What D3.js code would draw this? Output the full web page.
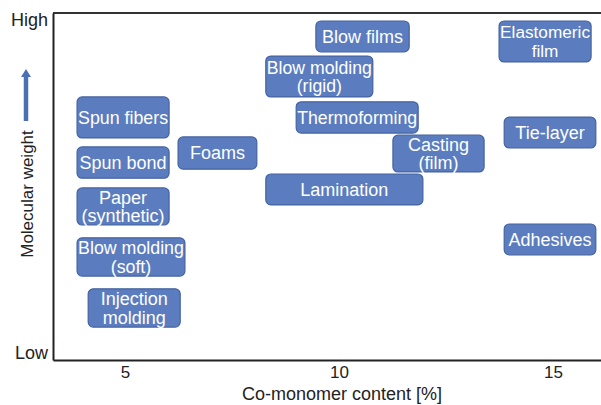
<!DOCTYPE html>
<html>
<head>
<meta charset="utf-8">
<script src="https://cdn.jsdelivr.net/npm/d3@7/dist/d3.min.js"></script>
<style>
  html, body { margin: 0; padding: 0; background: #fff; }
  svg { display: block; font-family: Arial, "Liberation Sans", sans-serif; }
</style>
</head>
<body>
<svg id="chart" width="601" height="405"></svg>
<script>
// ---- Data ----
const labels = [
  "Blow films", "Elastomeric\nfilm", "Blow molding\n(rigid)", "Spun fibers",
  "Thermoforming", "Tie-layer", "Casting\n(film)", "Spun bond", "Foams",
  "Lamination", "Paper\n(synthetic)", "Adhesives", "Blow molding\n(soft)",
  "Injection\nmolding"
];
// co-monomer content range [%] (start, end)
const comonomerStart = [9.46, 13.74, 8.29, 3.88, 9.00, 13.86, 11.26, 3.88, 6.24, 8.29, 3.88, 13.86, 3.88, 4.14];
const comonomerEnd   = [11.64, 15.89, 10.79, 6.03, 11.85, 16.00, 13.39, 6.03, 8.08, 11.96, 6.03, 16.00, 6.40, 6.29];
// molecular weight (relative index 0 = low, 100 = high) (low, high)
const mwLow  = [88.8, 85.9, 75.8, 64.0, 65.4, 61.1, 54.2, 52.4, 55.0, 44.7, 38.9, 30.3, 24.2, 9.5];
const mwHigh = [97.7, 97.7, 87.6, 75.8, 74.4, 70.0, 64.8, 61.4, 64.3, 53.6, 49.6, 39.2, 35.2, 20.5];

const xTickValues = [5, 10, 15];
const yTickValues = [2, 98];
const yTickLabels = ["Low", "High"];
const xTitle = "Co-monomer content [%]";
const yTitle = "Molecular weight";

// ---- Layout ----
const svg = d3.select("#chart");
const mLeft = 53, mRight = 601, mTop = 13, mBottom = 360;

const x = d3.scaleLinear()
  .domain([5 - (125 - mLeft) / 42.8, 15 + (mRight - 553) / 42.8])
  .range([mLeft, mRight]);
const y = d3.scaleLinear().domain([0, 100]).range([mBottom, mTop]);

const axisColor = "#222";

// Top frame line
svg.append("line")
  .attr("x1", mLeft).attr("x2", mRight)
  .attr("y1", mTop).attr("y2", mTop)
  .attr("stroke", "#333").attr("stroke-width", 2);

// X axis
const gx = svg.append("g")
  .attr("transform", `translate(0,${mBottom})`)
  .call(d3.axisBottom(x).tickValues(xTickValues).tickSize(0).tickPadding(6).tickFormat(d3.format("d")));
gx.select(".domain").attr("stroke", axisColor).attr("stroke-width", 2);
gx.selectAll("text").attr("font-size", 17).attr("fill", "#222")
  .attr("font-family", "Arial, 'Liberation Sans', sans-serif");

// Y axis
const gy = svg.append("g")
  .attr("transform", `translate(${mLeft},0)`)
  .call(d3.axisLeft(y).tickValues(yTickValues).tickSize(0).tickPadding(5)
    .tickFormat((d, i) => yTickLabels[i]));
gy.select(".domain").attr("stroke", axisColor).attr("stroke-width", 2);
gy.selectAll("text").attr("font-size", 18).attr("fill", "#222")
  .attr("font-family", "Arial, 'Liberation Sans', sans-serif");

// Axis titles
svg.append("text")
  .attr("x", x(10) + 3).attr("y", 400)
  .attr("text-anchor", "middle")
  .attr("font-size", 18).attr("fill", "#222")
  .text(xTitle);

const yTitleX = 27, yTitleY = 194;
svg.append("text")
  .attr("transform", `translate(${yTitleX},${yTitleY}) rotate(-90)`)
  .attr("text-anchor", "middle")
  .attr("dy", "0.35em")
  .attr("font-size", 17).attr("fill", "#222")
  .text(yTitle);

// Arrow above the y title
const arrowColor = "#4a6fb3";
svg.append("line")
  .attr("x1", yTitleX - 1).attr("x2", yTitleX - 1)
  .attr("y1", 121).attr("y2", 76)
  .attr("stroke", arrowColor).attr("stroke-width", 4.5);
svg.append("path")
  .attr("d", `M${yTitleX - 1},69 L${yTitleX - 6},77 L${yTitleX + 4},77 Z`)
  .attr("fill", arrowColor);

// ---- Boxes ----
const data = labels.map((l, i) => ({
  label: l, x0: comonomerStart[i], x1: comonomerEnd[i], y0: mwLow[i], y1: mwHigh[i]
}));

const boxes = svg.append("g").selectAll("g").data(data).join("g");

boxes.append("rect")
  .attr("x", d => x(d.x0))
  .attr("y", d => y(d.y1))
  .attr("width", d => x(d.x1) - x(d.x0))
  .attr("height", d => y(d.y0) - y(d.y1))
  .attr("rx", 5).attr("ry", 5)
  .attr("fill", "#5b7dc0")
  .attr("stroke", "#4463a0")
  .attr("stroke-width", 1.2);

boxes.each(function(d) {
  const g = d3.select(this);
  const lines = d.label.split("\n");
  const cx = (x(d.x0) + x(d.x1)) / 2;
  const cy = (y(d.y0) + y(d.y1)) / 2;
  const w = x(d.x1) - x(d.x0);
  const lh = 18.5;
  const t = g.append("text")
    .attr("text-anchor", "middle")
    .attr("fill", "#fff")
    .attr("font-size", 18);
  lines.forEach((ln, i) => {
    t.append("tspan")
      .attr("x", cx)
      .attr("y", cy + (i - (lines.length - 1) / 2) * lh)
      .attr("dy", "0.36em")
      .text(ln);
  });
  // shrink to fit the box width
  const bw = t.node().getBBox().width;
  if (bw > w - 2) {
    t.attr("font-size", 18 * (w - 2) / bw);
  }
});
</script>
</body>
</html>
